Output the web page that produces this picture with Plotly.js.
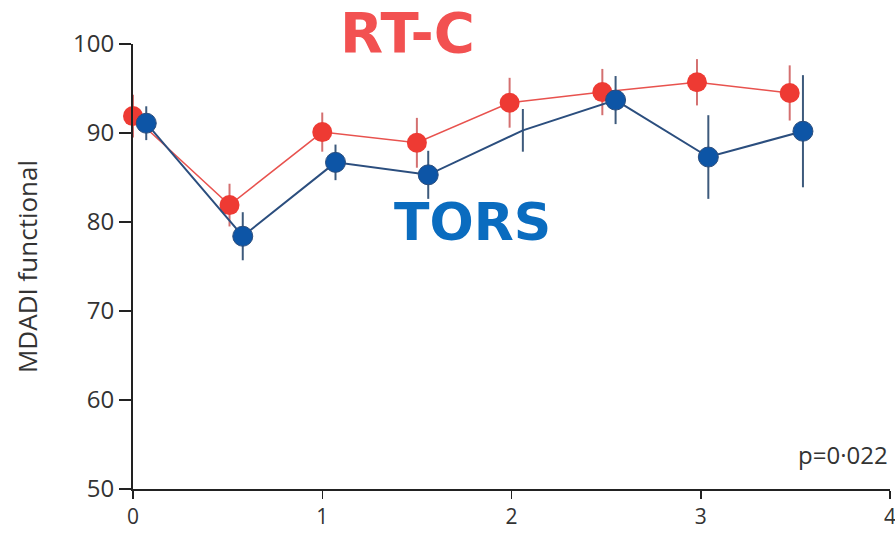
<!DOCTYPE html>
<html>
<head>
<meta charset="utf-8">
<script src="https://cdn.plot.ly/plotly-3.0.1.min.js"></script>
<style>html,body{margin:0;padding:0;background:#fff;}#chart{width:895px;height:535px;}</style>
</head>
<body>
<div id="chart"></div>
<script>
// RT-C series
const rtcX = [0.0, 0.51, 1.0, 1.5, 1.99, 2.48, 2.98, 3.47];
const rtcY = [91.9, 81.9, 90.1, 88.9, 93.4, 94.6, 95.7, 94.5];
const rtcErr = [2.4, 2.4, 2.2, 2.8, 2.8, 2.6, 2.6, 3.1];
// TORS series
const torsX = [0.07, 0.58, 1.07, 1.56, 2.06, 2.55, 3.04, 3.54];
const torsY = [91.1, 78.4, 86.7, 85.3, 90.3, 93.7, 87.3, 90.2];
const torsErr = [1.9, 2.7, 2.0, 2.7, 2.4, 2.7, 4.7, 6.3];
const torsMarkerShown = [1, 1, 1, 1, 0, 1, 1, 1];
// axis ticks
const xTicks = [0, 1, 2, 3, 4];
const yTicks = [50, 60, 70, 80, 90, 100];

const sans = "'Open Sans', 'Liberation Sans', Arial, sans-serif";

const traces = [
  {
    x: rtcX, y: rtcY, type: 'scatter', mode: 'lines+markers', name: 'RT-C',
    line: {color: '#e8524e', width: 1.5},
    marker: {color: '#ee3a33', size: 20, opacity: 1},
    error_y: {type: 'data', array: rtcErr, visible: true, color: '#d47070', thickness: 2, width: 0},
    cliponaxis: false
  },
  {
    x: torsX, y: torsY, type: 'scatter', mode: 'lines+markers', name: 'TORS',
    line: {color: '#2b4e7e', width: 2},
    marker: {color: '#0d55a6', size: torsMarkerShown.map(v => v ? 20 : 0), opacity: 1},
    error_y: {type: 'data', array: torsErr, visible: true, color: '#3d5a7c', thickness: 2, width: 0},
    cliponaxis: false
  }
];

const layout = {
  width: 895, height: 535,
  margin: {l: 133, r: 5, t: 44, b: 46},
  paper_bgcolor: '#fff', plot_bgcolor: '#fff',
  showlegend: false,
  xaxis: {
    range: [0, 4], tickvals: xTicks, ticktext: xTicks.map(String),
    showgrid: false, zeroline: false, showline: true, linecolor: '#222', linewidth: 2,
    ticks: 'outside', ticklen: 8, tickwidth: 1.5, tickcolor: '#222',
    tickfont: {family: sans, size: 21, color: '#333'}, ticklabeloverflow: 'allow'
  },
  yaxis: {
    range: [50, 100], tickvals: yTicks, ticktext: yTicks.map(String),
    showgrid: false, zeroline: false, showline: true, linecolor: '#222', linewidth: 2,
    ticks: 'outside', ticklen: 12, tickwidth: 1.5, tickcolor: '#222',
    tickfont: {family: sans, size: 24, color: '#333'}, ticklabeloverflow: 'allow',
    title: {text: 'MDADI functional', font: {family: sans, size: 26, color: '#333'}, standoff: 28}
  },
  annotations: [
    {x: 0.362, y: 1.025, xref: 'paper', yref: 'paper', text: 'RT-C', showarrow: false,
     xanchor: 'center', yanchor: 'middle',
     font: {family: "'DejaVu Sans', sans-serif", size: 56, color: '#f25151', weight: 'bold'}},
    {x: 472, y: 222, text: 'TORS', showarrow: false,
     font: {family: "'DejaVu Sans', sans-serif", size: 52, color: '#0a6cbf', weight: 'bold'}},
    {x: 1.0, y: 0.078, xref: 'paper', yref: 'paper', xanchor: 'right', yanchor: 'middle', text: 'p=0·022', showarrow: false,
     font: {family: sans, size: 24, color: '#333'}}
  ]
};
// convert the TORS label position from pixel spot to data coordinates via axis ranges
(function(){
  const plotW = 895 - 133 - 5, plotH = 535 - 44 - 46;
  const a = layout.annotations[1];
  a.xref = 'x'; a.yref = 'y';
  const px = a.x, py = a.y;
  a.x = (px - 133) / plotW * 4;
  a.y = 100 - (py - 44) / plotH * 50;
})();

Plotly.newPlot('chart', traces, layout, {staticPlot: true, displayModeBar: false});
</script>
</body>
</html>
